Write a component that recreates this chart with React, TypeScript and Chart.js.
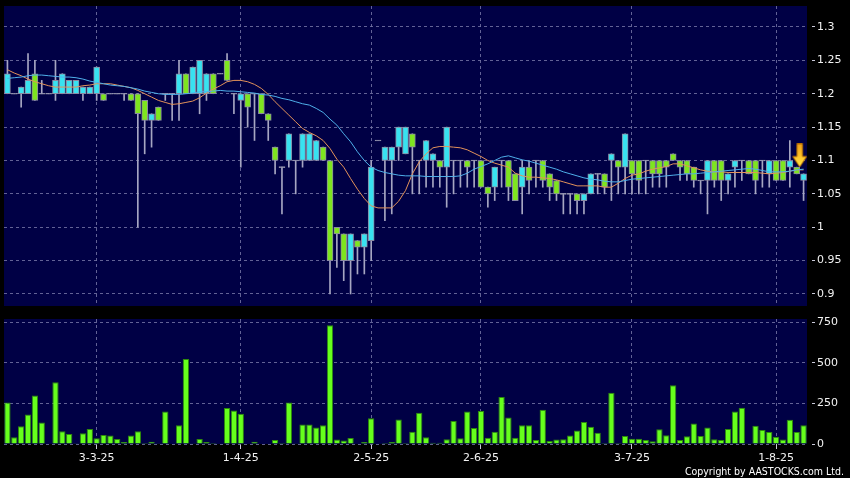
import React, { useEffect, useRef } from 'react';
import { Chart, registerables } from 'chart.js';

Chart.register(...registerables);

const openP = [
  1.20, 1.20, 1.20, 1.20, 1.23, 1.20, 1.20, 1.20, 1.20, 1.20,
  1.20, 1.20, 1.20, 1.20, 1.20, 1.20, 1.20, 1.20, 1.20, 1.20,
  1.19, 1.16, 1.18, 1.20, 1.20, 1.20, 1.23, 1.20, 1.20, 1.20,
  1.23, 1.23, 1.25, 1.20, 1.19, 1.20, 1.20, 1.20, 1.17, 1.12,
  1.09, 1.10, 1.10, 1.10, 1.10, 1.10, 1.12, 1.10, 1.00, 0.99,
  0.95, 0.98, 0.97, 0.98, 1.13, 1.10, 1.10, 1.12, 1.11, 1.14,
  1.10, 1.10, 1.10, 1.10, 1.09, 1.10, 1.10, 1.10, 1.10, 1.10,
  1.06, 1.06, 1.10, 1.10, 1.08, 1.06, 1.09, 1.10, 1.10, 1.08,
  1.07, 1.05, 1.05, 1.05, 1.04, 1.05, 1.08, 1.08, 1.10, 1.10,
  1.09, 1.10, 1.10, 1.10, 1.10, 1.10, 1.10, 1.11, 1.10, 1.10,
  1.09, 1.07, 1.07, 1.10, 1.10, 1.07, 1.09, 1.10, 1.10, 1.10,
  1.10, 1.08, 1.10, 1.10, 1.09, 1.09, 1.07,
];
const highP = [
  1.25, 1.20, 1.21, 1.26, 1.25, 1.22, 1.20, 1.25, 1.23, 1.22,
  1.22, 1.21, 1.21, 1.24, 1.20, 1.20, 1.20, 1.20, 1.20, 1.20,
  1.19, 1.17, 1.18, 1.20, 1.20, 1.25, 1.23, 1.24, 1.25, 1.23,
  1.23, 1.23, 1.26, 1.20, 1.20, 1.20, 1.20, 1.20, 1.17, 1.12,
  1.09, 1.14, 1.10, 1.14, 1.14, 1.13, 1.12, 1.10, 1.00, 0.99,
  0.99, 0.98, 0.99, 1.10, 1.13, 1.12, 1.12, 1.15, 1.15, 1.14,
  1.10, 1.13, 1.11, 1.10, 1.15, 1.10, 1.10, 1.10, 1.10, 1.10,
  1.06, 1.09, 1.10, 1.10, 1.08, 1.10, 1.10, 1.10, 1.10, 1.08,
  1.07, 1.05, 1.05, 1.05, 1.05, 1.08, 1.08, 1.08, 1.11, 1.10,
  1.14, 1.10, 1.10, 1.10, 1.10, 1.10, 1.10, 1.11, 1.10, 1.10,
  1.09, 1.07, 1.10, 1.10, 1.10, 1.08, 1.10, 1.10, 1.10, 1.10,
  1.10, 1.10, 1.10, 1.10, 1.13, 1.09, 1.08,
];
const lowP = [
  1.20, 1.20, 1.18, 1.20, 1.19, 1.20, 1.20, 1.19, 1.20, 1.20,
  1.20, 1.19, 1.20, 1.19, 1.19, 1.20, 1.20, 1.19, 1.19, 1.00,
  1.11, 1.12, 1.16, 1.19, 1.16, 1.16, 1.20, 1.20, 1.17, 1.19,
  1.20, 1.23, 1.22, 1.17, 1.09, 1.15, 1.13, 1.17, 1.13, 1.08,
  1.02, 1.09, 1.05, 1.09, 1.10, 1.10, 1.10, 0.90, 0.94, 0.92,
  0.90, 0.93, 0.93, 0.95, 1.13, 1.01, 1.02, 1.10, 1.11, 1.05,
  1.05, 1.06, 1.06, 1.06, 1.03, 1.05, 1.06, 1.06, 1.06, 1.06,
  1.03, 1.04, 1.06, 1.04, 1.04, 1.02, 1.05, 1.06, 1.06, 1.04,
  1.04, 1.02, 1.02, 1.02, 1.02, 1.05, 1.05, 1.05, 1.04, 1.05,
  1.05, 1.05, 1.05, 1.05, 1.06, 1.06, 1.06, 1.10, 1.07, 1.07,
  1.06, 1.05, 1.02, 1.06, 1.04, 1.05, 1.06, 1.07, 1.08, 1.05,
  1.06, 1.06, 1.07, 1.07, 1.06, 1.08, 1.04,
];
const closeP = [
  1.23, 1.20, 1.21, 1.22, 1.19, 1.20, 1.20, 1.22, 1.23, 1.22,
  1.22, 1.21, 1.21, 1.24, 1.19, 1.20, 1.20, 1.20, 1.19, 1.17,
  1.16, 1.17, 1.16, 1.20, 1.20, 1.23, 1.20, 1.24, 1.25, 1.23,
  1.20, 1.23, 1.22, 1.20, 1.20, 1.18, 1.20, 1.17, 1.16, 1.10,
  1.09, 1.14, 1.10, 1.14, 1.14, 1.13, 1.10, 0.95, 0.99, 0.95,
  0.99, 0.97, 0.99, 1.09, 1.13, 1.12, 1.12, 1.15, 1.15, 1.12,
  1.10, 1.13, 1.11, 1.09, 1.15, 1.10, 1.10, 1.09, 1.10, 1.06,
  1.05, 1.09, 1.10, 1.06, 1.04, 1.09, 1.07, 1.10, 1.07, 1.06,
  1.05, 1.05, 1.05, 1.04, 1.05, 1.08, 1.08, 1.06, 1.11, 1.09,
  1.14, 1.08, 1.07, 1.10, 1.08, 1.08, 1.09, 1.10, 1.09, 1.08,
  1.07, 1.07, 1.10, 1.07, 1.07, 1.08, 1.10, 1.10, 1.08, 1.07,
  1.10, 1.10, 1.07, 1.07, 1.10, 1.08, 1.08,
];
const volume = [
  256, 41, 110, 182, 298, 132, 0, 380, 79, 62,
  5, 66, 93, 35, 56, 52, 31, 12, 52, 79,
  6, 14, 2, 200, 3, 116, 523, 2, 31, 12,
  6, 0, 221, 207, 186, 3, 14, 3, 0, 25,
  6, 256, 2, 120, 120, 101, 116, 731, 27, 21,
  37, 0, 12, 159, 0, 6, 12, 151, 6, 76,
  192, 41, 8, 8, 29, 142, 35, 200, 99, 204,
  39, 76, 289, 163, 39, 116, 116, 25, 211, 19,
  27, 29, 52, 83, 136, 107, 70, 6, 316, 6,
  50, 33, 33, 25, 17, 91, 54, 362, 25, 48,
  126, 50, 101, 29, 25, 93, 200, 223, 4, 112,
  87, 74, 45, 27, 149, 74, 116,
];
const maShort = [
  1.236, 1.231, 1.227, 1.222, 1.218, 1.215, 1.212, 1.210, 1.210, 1.210,
  1.210, 1.212, 1.213, 1.215, 1.215, 1.215, 1.213, 1.211, 1.209, 1.205,
  1.200, 1.195, 1.190, 1.187, 1.184, 1.185, 1.187, 1.189, 1.194, 1.201,
  1.207, 1.212, 1.218, 1.220, 1.220, 1.218, 1.214, 1.208, 1.199, 1.188,
  1.178, 1.168, 1.158, 1.148, 1.142, 1.137, 1.130, 1.118, 1.102, 1.090,
  1.073, 1.057, 1.043, 1.032, 1.029, 1.029, 1.029, 1.039, 1.055, 1.080,
  1.098, 1.110, 1.119, 1.121, 1.121, 1.120, 1.119, 1.116, 1.111, 1.106,
  1.100, 1.096, 1.093, 1.090, 1.081, 1.077, 1.075, 1.075, 1.074, 1.073,
  1.071, 1.068, 1.065, 1.062, 1.062, 1.062, 1.062, 1.060, 1.060, 1.066,
  1.073, 1.078, 1.080, 1.084, 1.087, 1.089, 1.091, 1.095, 1.095, 1.092,
  1.089, 1.086, 1.084, 1.083, 1.083, 1.082, 1.082, 1.082, 1.082, 1.082,
  1.081, 1.080, 1.081, 1.082, 1.084, 1.086, 1.086,
];
const maLong = [
  1.223, 1.224, 1.225, 1.227, 1.228, 1.228, 1.227, 1.226, 1.225, 1.225,
  1.224, 1.222, 1.219, 1.217, 1.215, 1.213, 1.212, 1.211, 1.209, 1.207,
  1.204, 1.202, 1.200, 1.199, 1.199, 1.199, 1.200, 1.201, 1.203, 1.203,
  1.204, 1.205, 1.204, 1.204, 1.203, 1.202, 1.201, 1.199, 1.198, 1.196,
  1.193, 1.191, 1.188, 1.185, 1.183, 1.178, 1.172, 1.162, 1.153, 1.140,
  1.128, 1.113, 1.100, 1.090, 1.085, 1.082, 1.080, 1.078, 1.077, 1.077,
  1.077, 1.076, 1.076, 1.076, 1.076, 1.076, 1.077, 1.081, 1.087, 1.091,
  1.095, 1.100, 1.105, 1.107, 1.104, 1.101, 1.099, 1.096, 1.093, 1.090,
  1.087, 1.083, 1.080, 1.077, 1.074, 1.072, 1.071, 1.069, 1.068, 1.068,
  1.070, 1.072, 1.073, 1.074, 1.075, 1.076, 1.077, 1.078, 1.079, 1.080,
  1.080, 1.081, 1.082, 1.083, 1.084, 1.085, 1.086, 1.087, 1.088, 1.087,
  1.085, 1.083, 1.083, 1.083, 1.084, 1.086, 1.087,
];
const tickIndex = [13, 34, 53, 69, 91, 112];
const tickLabels = ['3-3-25', '1-4-25', '2-5-25', '2-6-25', '3-7-25', '1-8-25'];
const priceTicks = [0.9, 0.95, 1, 1.05, 1.1, 1.15, 1.2, 1.25, 1.3];
const volumeTicks = [0, 250, 500, 750];
const markerIndex = 115;
const markerPrice = 1.1075;

const BG = '#000045';
const GRID = 'rgba(115,115,165,0.85)';
const TICKMARK = '#c8c8d8';
const TEXT = '#f2f2f2';
const UP = '#38e2f0';
const DOWN = '#7ee51f';
const FLAT = '#a0a0bc';
const OUTLINE = '#8a8aa2';
const WICK = '#a6a6c2';
const VOL = '#66ff1c';
const VOL_EDGE = '#2e8a0c';
const MA_SHORT_COLOR = '#e3925a';
const MA_LONG_COLOR = '#4fb0ea';
const FONT = { family: "'DejaVu Sans'", size: 11 };

const labels = openP.map((_, i) => String(i));

const panelBg = {
  id: 'panelBg',
  beforeDraw(chart: any) {
    const { ctx, chartArea: a } = chart;
    ctx.save();
    ctx.fillStyle = BG;
    ctx.fillRect(a.left, a.top, a.right - a.left, a.bottom - a.top);
    ctx.restore();
  },
};

const xGridColor = (ctx: any) => (tickIndex.includes(ctx.index) ? GRID : 'rgba(0,0,0,0)');
const xTickColor = (ctx: any) => (tickIndex.includes(ctx.index) ? TICKMARK : 'rgba(0,0,0,0)');

const fitY = (s: any) => {
  s.width = 43;
  s.paddingTop = 0;
  s.paddingBottom = 0;
};

function makeArrow() {
  const c = document.createElement('canvas');
  c.width = 21;
  c.height = 24;
  const g = c.getContext('2d')!;
  const grad = g.createLinearGradient(0, 0, 0, 24);
  grad.addColorStop(0, '#f0a21a');
  grad.addColorStop(0.5, '#ffc228');
  grad.addColorStop(1, '#ffe848');
  g.fillStyle = grad;
  g.beginPath();
  g.moveTo(10.8, 0.5);
  g.lineTo(16.2, 0.5);
  g.lineTo(16.2, 13);
  g.lineTo(20.5, 13);
  g.lineTo(13.5, 23.5);
  g.lineTo(6.5, 13);
  g.lineTo(10.8, 13);
  g.closePath();
  g.fill();
  g.strokeStyle = '#b86e00';
  g.lineWidth = 1;
  g.stroke();
  return c;
}

export default function App() {
  const priceRef = useRef<HTMLCanvasElement>(null);
  const volRef = useRef<HTMLCanvasElement>(null);

  useEffect(() => {
    const arrow = makeArrow();
    const bodyData = openP.map((o, i) =>
      o === closeP[i] ? [o - 0.00075, o + 0.00075] : [o, closeP[i]]
    );
    const bodyColors = openP.map((o, i) =>
      closeP[i] > o ? UP : closeP[i] < o ? DOWN : FLAT
    );
    const wickData = lowP.map((l, i) => [l, highP[i]]);
    const markerData = labels.map((_, i) => (i === markerIndex ? markerPrice : null));

    const pc = new Chart(priceRef.current!, {
      type: 'bar',
      data: {
        labels,
        datasets: [
          {
            type: 'bar',
            data: wickData as any,
            backgroundColor: WICK,
            borderWidth: 0,
            barThickness: 1,
            grouped: false,
            order: 3,
          } as any,
          {
            type: 'bar',
            data: bodyData as any,
            backgroundColor: bodyColors,
            borderColor: OUTLINE,
            borderWidth: 1,
            borderSkipped: false,
            barThickness: 6,
            grouped: false,
            order: 2,
          } as any,
          {
            type: 'line',
            data: maLong,
            borderColor: MA_LONG_COLOR,
            borderWidth: 1,
            pointRadius: 0,
            tension: 0,
            order: 1,
          } as any,
          {
            type: 'line',
            data: maShort,
            borderColor: MA_SHORT_COLOR,
            borderWidth: 1,
            pointRadius: 0,
            tension: 0,
            order: 1,
          } as any,
          {
            type: 'line',
            data: markerData,
            showLine: false,
            pointStyle: arrow,
            pointRadius: 5,
            borderWidth: 0,
            order: 0,
          } as any,
        ],
      },
      options: {
        responsive: false,
        animation: false,
        events: [],
        layout: { autoPadding: false, padding: { left: 4, top: 6, right: 0, bottom: 4 } },
        plugins: { legend: { display: false }, tooltip: { enabled: false } },
        scales: {
          x: {
            type: 'category',
            offset: true,
            grid: { offset: false, color: xGridColor, drawTicks: false, lineWidth: 1 },
            border: { display: false, dash: [3, 3] },
            ticks: { display: false, autoSkip: false },
            afterFit: (s: any) => {
              s.height = 0;
              s.paddingLeft = 0;
              s.paddingRight = 0;
            },
          },
          y: {
            position: 'right',
            min: 0.88202,
            max: 1.33146,
            afterBuildTicks: (s: any) => {
              s.ticks = priceTicks.map((v) => ({ value: v }));
            },
            ticks: {
              color: TEXT,
              font: FONT,
              padding: 2,
              callback: (v: any) => String(Math.round(Number(v) * 100) / 100),
            },
            grid: {
              color: GRID,
              tickLength: 8,
              tickColor: TICKMARK,
              tickBorderDash: [0, 5, 3, 100],
            },
            border: { display: false, dash: [3, 3] },
            afterFit: fitY,
          },
        },
      } as any,
      plugins: [panelBg],
    });

    const vc = new Chart(volRef.current!, {
      type: 'bar',
      data: {
        labels,
        datasets: [
          {
            data: volume,
            backgroundColor: VOL,
            borderColor: VOL_EDGE,
            borderWidth: 1,
            borderSkipped: 'start',
            barPercentage: 0.92,
            categoryPercentage: 1,
          } as any,
        ],
      },
      options: {
        responsive: false,
        animation: false,
        events: [],
        layout: { autoPadding: false, padding: { left: 4, top: 9, right: 0, bottom: 0 } },
        plugins: { legend: { display: false }, tooltip: { enabled: false } },
        scales: {
          x: {
            type: 'category',
            offset: true,
            grid: {
              offset: false,
              color: xGridColor,
              drawTicks: true,
              tickLength: 5,
              tickColor: xTickColor,
            },
            border: { display: false, dash: [3, 3] },
            ticks: {
              autoSkip: false,
              maxRotation: 0,
              minRotation: 0,
              padding: 3,
              color: TEXT,
              font: FONT,
              callback: (_v: any, index: number) => {
                const k = tickIndex.indexOf(index);
                return k >= 0 ? tickLabels[k] : '';
              },
            },
            afterFit: (s: any) => {
              s.height = 34;
              s.paddingLeft = 0;
              s.paddingRight = 0;
            },
          },
          y: {
            position: 'right',
            min: 0,
            max: 770,
            afterBuildTicks: (s: any) => {
              s.ticks = volumeTicks.map((v) => ({ value: v }));
            },
            ticks: {
              color: TEXT,
              font: FONT,
              padding: 2,
              callback: (v: any) => String(v),
            },
            grid: {
              color: GRID,
              tickLength: 8,
              tickColor: TICKMARK,
              tickBorderDash: [0, 5, 3, 100],
            },
            border: { display: false, dash: [3, 3] },
            afterFit: fitY,
          },
        },
      } as any,
      plugins: [panelBg],
    });

    return () => {
      pc.destroy();
      vc.destroy();
    };
  }, []);

  return (
    <div
      style={{
        position: 'fixed',
        left: 0,
        top: 0,
        width: 850,
        height: 478,
        background: '#000',
        overflow: 'hidden',
      }}
    >
      <canvas
        ref={priceRef}
        width={850}
        height={310}
        style={{ position: 'absolute', left: 0, top: 0, width: 850, height: 310 }}
      />
      <canvas
        ref={volRef}
        width={850}
        height={168}
        style={{ position: 'absolute', left: 0, top: 310, width: 850, height: 168 }}
      />
      <div
        style={{
          position: 'absolute',
          right: 6,
          top: 464,
          color: '#ffffff',
          fontFamily: "'DejaVu Sans Condensed', 'DejaVu Sans'",
          fontSize: 10.5,
          lineHeight: '14px',
          whiteSpace: 'nowrap',
        }}
      >
        Copyright by AASTOCKS.com Ltd.
      </div>
    </div>
  );
}
